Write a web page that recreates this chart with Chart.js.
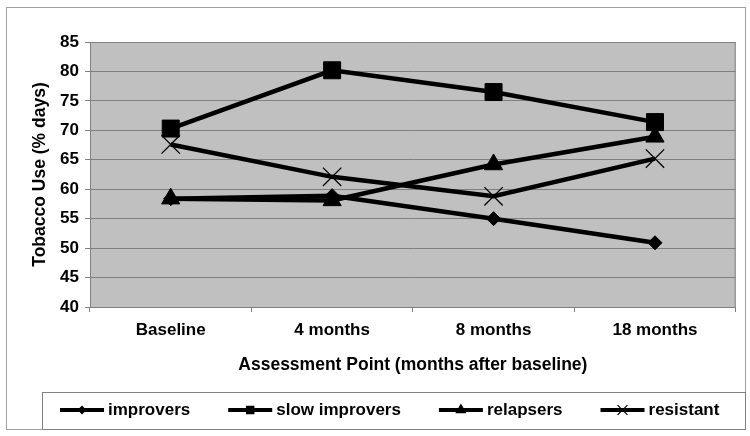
<!DOCTYPE html>
<html lang="en">
<head>
    <meta charset="UTF-8">
    <title>Tobacco Use</title>
    <style>
        body {
            margin: 0;
            background: #fff;
        }
        #wrap {
            width: 750px;
            height: 436px;
        }
    </style>
</head>
<body>
    <div id="wrap">
        <canvas id="tobaccoChart" width="750" height="436"></canvas>
    </div>

    <script src="https://cdn.jsdelivr.net/npm/chart.js"></script>
    <script>
        const categories = ['Baseline', '4 months', '8 months', '18 months'];
        const seriesNames = ['improvers', 'slow improvers', 'relapsers', 'resistant'];
        const improvers = [58.4, 58.9, 55.0, 50.9];
        const slowImprovers = [70.3, 80.2, 76.5, 71.4];
        const relapsers = [58.4, 58.1, 64.2, 68.9];
        const resistant = [67.6, 62.1, 58.8, 65.2];
        const yTicks = [40, 45, 50, 55, 60, 65, 70, 75, 80, 85];

        const FONT = "'Liberation Sans', Arial, sans-serif";

        // marker look per series (chart size, legend size)
        const markers = [
            { style: 'rectRot', radius: 7, legendRadius: 4.5, borderWidth: 1 },
            { style: 'rect', radius: 12, legendRadius: 6, borderWidth: 1 },
            { style: 'triangle', radius: 10.5, legendRadius: 6.5, borderWidth: 1 },
            { style: 'crossRot', radius: 13, legendRadius: 7, borderWidth: 1.3 }
        ];
        const values = [improvers, slowImprovers, relapsers, resistant];

        const datasets = seriesNames.map((name, i) => ({
            label: name,
            data: values[i],
            borderColor: '#000',
            backgroundColor: '#000',
            borderWidth: 4.5,
            pointStyle: markers[i].style,
            pointRadius: markers[i].radius,
            pointBorderWidth: markers[i].borderWidth,
            pointBackgroundColor: '#000',
            pointBorderColor: '#000',
            tension: 0
        }));

        function drawMarker(ctx, style, r, x, y, lw) {
            ctx.save();
            ctx.fillStyle = '#000';
            ctx.strokeStyle = '#000';
            ctx.lineWidth = lw;
            ctx.beginPath();
            if (style === 'rectRot') {
                ctx.moveTo(x, y - r);
                ctx.lineTo(x + r, y);
                ctx.lineTo(x, y + r);
                ctx.lineTo(x - r, y);
                ctx.closePath();
                ctx.fill();
            } else if (style === 'rect') {
                const s = r * Math.SQRT1_2;
                ctx.rect(x - s, y - s, 2 * s, 2 * s);
                ctx.fill();
            } else if (style === 'triangle') {
                ctx.moveTo(x, y - r);
                ctx.lineTo(x + r * 0.866, y + r * 0.5);
                ctx.lineTo(x - r * 0.866, y + r * 0.5);
                ctx.closePath();
                ctx.fill();
            } else {
                const d = r * Math.SQRT1_2;
                ctx.moveTo(x - d, y - d);
                ctx.lineTo(x + d, y + d);
                ctx.moveTo(x + d, y - d);
                ctx.lineTo(x - d, y + d);
                ctx.stroke();
            }
            ctx.restore();
        }

        const frame = {
            id: 'frame',
            beforeDraw(chart) {
                const { ctx, chartArea: a } = chart;
                ctx.save();
                ctx.fillStyle = '#fff';
                ctx.fillRect(0, 0, chart.width, chart.height);
                ctx.fillStyle = '#c0c0c0';
                ctx.fillRect(a.left, a.top, a.right - a.left, a.bottom - a.top);
                ctx.strokeStyle = '#a0a0a0';
                ctx.lineWidth = 1;
                ctx.strokeRect(6.5, 7.5, 739, 422);
                ctx.restore();
            },
            afterDatasetsDraw(chart) {
                const { ctx, chartArea: a } = chart;
                ctx.save();
                ctx.strokeStyle = '#808080';
                ctx.lineWidth = 1;
                ctx.beginPath();
                ctx.moveTo(a.right - 0.5, a.top);
                ctx.lineTo(a.right - 0.5, a.bottom);
                ctx.stroke();
                ctx.restore();
            }
        };

        const boxLegend = {
            id: 'boxLegend',
            afterDraw(chart) {
                const ctx = chart.ctx;
                ctx.save();
                ctx.strokeStyle = '#808080';
                ctx.lineWidth = 1;
                ctx.strokeRect(42.5, 392.5, 703, 37);
                ctx.font = 'bold 17px ' + FONT;
                ctx.textBaseline = 'middle';
                ctx.fillStyle = '#000';
                const y = 410;
                let x = 60;
                chart.data.datasets.forEach((ds, i) => {
                    ctx.strokeStyle = '#000';
                    ctx.lineWidth = 4;
                    ctx.beginPath();
                    ctx.moveTo(x, y);
                    ctx.lineTo(x + 44, y);
                    ctx.stroke();
                    drawMarker(ctx, markers[i].style, markers[i].legendRadius, x + 22, y, 1.2);
                    ctx.fillText(ds.label, x + 48, y);
                    x += 48 + ctx.measureText(ds.label).width + 38;
                });
                ctx.restore();
            }
        };

        new Chart(document.getElementById('tobaccoChart'), {
            type: 'line',
            data: { labels: categories, datasets: datasets },
            options: {
                responsive: false,
                devicePixelRatio: 1,
                animation: false,
                layout: { padding: { left: 20, right: 13, top: 42, bottom: 54 } },
                plugins: {
                    legend: { display: false },
                    tooltip: { enabled: false }
                },
                scales: {
                    x: {
                        offset: true,
                        afterFit: s => { s.height = 75; },
                        grid: {
                            offset: true,
                            drawOnChartArea: false,
                            color: '#808080',
                            tickLength: 5
                        },
                        border: { color: '#808080' },
                        ticks: {
                            color: '#000',
                            padding: 8,
                            font: { family: FONT, size: 17, weight: 'bold' }
                        },
                        title: {
                            display: true,
                            text: 'Assessment Point (months after baseline)',
                            color: '#000',
                            padding: { top: 0, bottom: 6 },
                            font: { family: FONT, size: 17.5, weight: 'bold' }
                        }
                    },
                    y: {
                        min: yTicks[0],
                        max: yTicks[yTicks.length - 1],
                        afterFit: s => { s.width = 70; },
                        afterBuildTicks: s => { s.ticks = yTicks.map(v => ({ value: v })); },
                        grid: {
                            color: '#808080',
                            tickLength: 5
                        },
                        border: { color: '#808080' },
                        ticks: {
                            color: '#000',
                            padding: 6,
                            font: { family: FONT, size: 17, weight: 'bold' }
                        },
                        title: {
                            display: true,
                            text: 'Tobacco Use (% days)',
                            color: '#000',
                            padding: { top: 10, bottom: 0 },
                            font: { family: FONT, size: 17.5, weight: 'bold' }
                        }
                    }
                }
            },
            plugins: [frame, boxLegend]
        });
    </script>
</body>
</html>
